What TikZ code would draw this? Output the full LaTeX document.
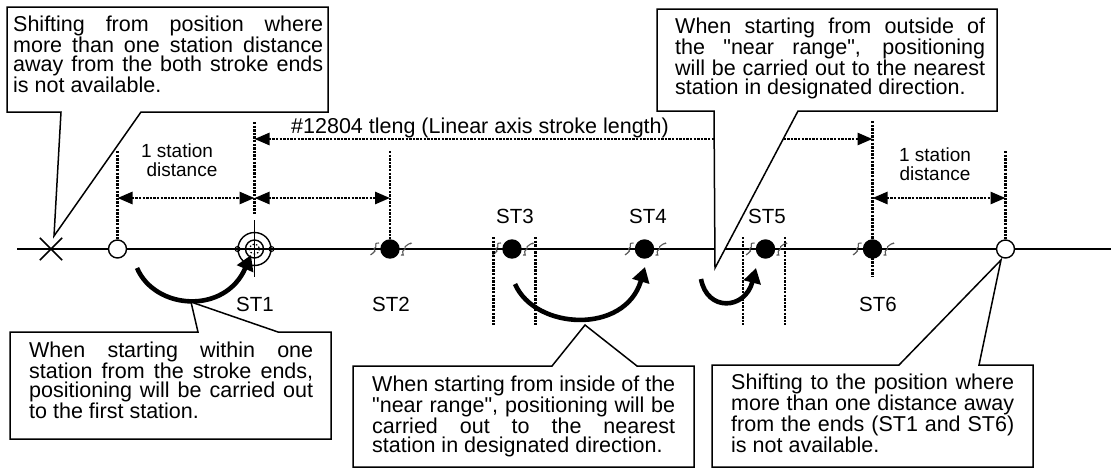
\documentclass[tikz,border=0pt]{standalone}
\usepackage{fontspec}
\setmainfont{Liberation Sans}[Ligatures=TeXOff]
\usetikzlibrary{positioning,arrows.meta}

\tikzset{
  station/.style={circle,draw=black,line width=1.4pt,fill=black,minimum size=18pt,inner sep=0pt},
  endstop/.style={circle,draw=black,line width=1.4pt,fill=white,minimum size=18pt,inner sep=0pt},
  dotline/.style={line width=2.7pt,dash pattern=on 2.3pt off 1.3pt},
  dimline/.style={dotline,{Triangle[length=15pt,width=12pt]}-{Triangle[length=15pt,width=12pt]}},
  moveline/.style={line width=4.6pt,-{Triangle[length=15pt,width=17pt]}},
  callout/.style={draw=black,fill=white,line width=1.5pt},
  calltext/.style={anchor=north west,inner sep=0pt,align=justify,font=\fontsize{21.5}{18.8}\selectfont},
  stationtext/.style={inner sep=0pt,anchor=base,font=\fontsize{20.5}{18.8}\selectfont},
  dimtext/.style={inner sep=0pt,font=\fontsize{19}{18.8}\selectfont},
}

\begin{document}
\begin{tikzpicture}[x=1pt,y=-1pt]
  \useasboundingbox (0,0) rectangle (1111,469);
  \fill[white] (0,0) rectangle (1111,469);

  % axis
  \coordinate (axisL) at (17,249);
  \coordinate (axisR) at (1111,249);
  \draw[line width=1.5pt] (axisL) -- (axisR);

  % stations
  \node[endstop] (left) at (117.5,249) {};
  \node[endstop] (right) at (1005.5,249) {};
  \node[circle,inner sep=0pt,minimum size=18pt,draw=black,line width=1.4pt] (st1) at (254.5,249) {};
  \node[station] (st2) at (390,249) {};
  \node[station] (st3) at (512,249) {};
  \node[station] (st4) at (644.5,249) {};
  \node[station] (st5) at (765.5,249) {};
  \node[station] (st6) at (872.5,249) {};

  % break marks beside the stations
  \foreach \n in {st2,st3,st4,st5,st6} {
    \draw[black!65,line width=1.1pt] (\n) ++(-11,-6) .. controls ++(-7,0) and ++(5,-3) .. ++(-5,6) .. controls ++(5,2) and ++(-6,3) .. ++(-2,5);
    \draw[black!65,line width=1.1pt] (\n) ++(11,6) .. controls ++(6,1) and ++(-6,4) .. ++(4,-6) .. controls ++(-3,-3) and ++(5,-3) .. ++(5,-5);
  }

  % ST1 target
  \draw[line width=1.4pt] (st1) circle (16.5);
  \draw[line width=1.2pt,dash pattern=on 1.5pt off 2pt] (st1) circle (5);
  \draw[line width=1.4pt] (254.5,220) -- (254.5,277);
  \draw[line width=1pt] (237.5,249) circle (2.5) (271.5,249) circle (2.5);

  % X mark
  \node[inner sep=0pt,minimum size=22pt] (xmark) at (51,249) {};
  \draw[line width=1.5pt] (xmark.north west) -- (xmark.south east) (xmark.north east) -- (xmark.south west);

  % dotted limits
  \coordinate (topL) at (117.5,151);
  \coordinate (top1) at (254.5,122);
  \coordinate (bot1) at (254.5,214);
  \coordinate (top2) at (390,151);
  \coordinate (top6) at (872.5,121);
  \coordinate (bot6) at (872.5,277);
  \coordinate (topR) at (1005.5,151);
  \draw[dotline] (topL) -- (left);
  \draw[dotline] (top1) -- (bot1);
  \draw[dotline] (top2) -- (st2);
  \draw[dotline] (top6) -- (bot6);
  \draw[dotline] (topR) -- (right);

  % near range limits
  \foreach \x in {493.5,535.5,743,785} \draw[dotline] (\x,237) -- (\x,325);

  % distances
  \coordinate (dimL) at (117.5,198);
  \coordinate (dim1) at (254.5,198);
  \coordinate (dim2) at (390,198);
  \coordinate (dim6) at (872.5,198);
  \coordinate (dimR) at (1005.5,198);
  \coordinate (lenA) at (254.5,139);
  \coordinate (lenB) at (872.5,139);
  \draw[dimline] (dimL) -- (dim1);
  \draw[dimline] (dim1) -- (dim2);
  \draw[dimline] (dim6) -- (dimR);
  \draw[dimline] (lenA) -- (lenB);

  \node[dimtext,align=center] (dist1) at (182,160.5) {1 station\rule{10pt}{0pt}\\ distance};
  \node[dimtext,align=center] (dist2) at (935,164.5) {1 station\\ distance};
  \node[calltext,anchor=base west] (leng) at (291,133) {\#12804 tleng (Linear axis stroke length)};

  \node[stationtext] (lab1) at (255,311) {ST1};
  \node[stationtext] (lab2) at (391,311) {ST2};
  \node[stationtext] (lab3) at (515,223) {ST3};
  \node[stationtext] (lab4) at (648,223) {ST4};
  \node[stationtext] (lab5) at (767,223) {ST5};
  \node[stationtext] (lab6) at (878,311) {ST6};

  % moves
  \coordinate (mv1a) at (137,268);
  \coordinate (mv1b) at (251,255);
  \coordinate (mv2a) at (515,284);
  \coordinate (mv2b) at (645,267);
  \coordinate (mv3a) at (701,279);
  \coordinate (mv3b) at (756,268);
  \draw[moveline] (mv1a) .. controls (155,310) and (225,315) .. (mv1b);
  \draw[moveline] (mv2a) .. controls (535,330) and (625,335) .. (mv2b);
  \draw[moveline] (mv3a) .. controls (707,312) and (745,310) .. (mv3b);

  % callouts
  \coordinate (tipA) at (54,236);
  \coordinate (tipB) at (715,268);
  \coordinate (tipC) at (191,302);
  \coordinate (tipD) at (585,325);
  \coordinate (tipE) at (1001,260);
  \draw[callout] (7,7) -- (328,7) -- (328,112) -- (141,112) -- (tipA) -- (61,112) -- (7,112) -- cycle;
  \draw[callout] (657,9) -- (997,9) -- (997,111) -- (798,111) -- (tipB) -- (714,111) -- (657,111) -- cycle;
  \draw[callout] (10,332) -- (198,332) -- (tipC) -- (278,332) -- (331,332) -- (331,439) -- (10,439) -- cycle;
  \draw[callout] (353,366) -- (552,366) -- (tipD) -- (637,366) -- (694,366) -- (694,467) -- (353,467) -- cycle;
  \draw[callout] (712,365) -- (899,365) -- (tipE) -- (979,365) -- (1033,365) -- (1033,467) -- (712,467) -- cycle;

  \node[calltext,text width=310pt] (noteA) at (13,15.4) {Shifting from position where\linebreak more than one station distance\linebreak away from the both stroke ends\linebreak is not available.};
  \node[calltext,text width=310pt] (noteB) at (675,17.4) {When starting from outside of\linebreak the "near range", positioning\linebreak will be carried out to the nearest\linebreak station in designated direction.};
  \node[calltext,text width=284pt] (noteC) at (29,341.4) {When starting within one\linebreak station from the stroke ends,\linebreak positioning will be carried out\linebreak to the first station.};
  \node[calltext,text width=303pt] (noteD) at (372,375.4) {When starting from inside of the\linebreak "near range", positioning will be\linebreak carried out to the nearest\linebreak station in designated direction.};
  \node[calltext,text width=283pt] (noteE) at (731,373.4) {Shifting to the position where\linebreak more than one distance away\linebreak from the ends (ST1 and ST6)\linebreak is not available.};
\end{tikzpicture}
\end{document}
